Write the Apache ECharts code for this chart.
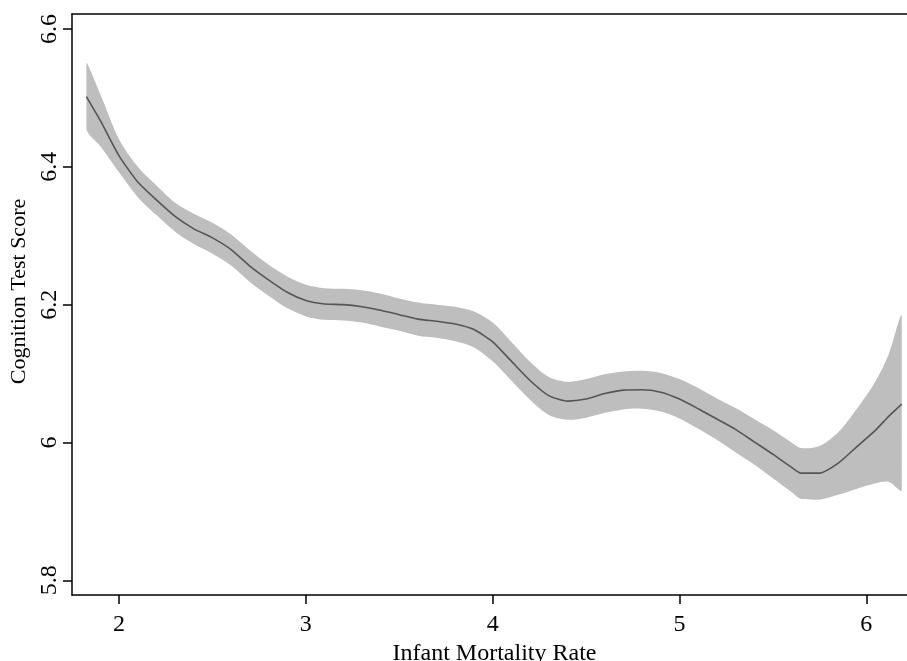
<!DOCTYPE html>
<html>
<head>
<meta charset="utf-8">
<style>
  html, body { margin: 0; padding: 0; background: #fff; }
  #chart { width: 907px; height: 661px; }
</style>
<script src="https://cdn.jsdelivr.net/npm/echarts@6/dist/echarts.min.js"></script>
</head>
<body>
<div id="chart"></div>
<script>
// infant mortality rate (x) and the smoothed fit with its confidence band
const xs = [1.825, 1.9, 2.0, 2.1, 2.2, 2.3, 2.4, 2.5, 2.6, 2.7, 2.8, 2.9, 3.0, 3.1, 3.2, 3.3, 3.4, 3.5, 3.6, 3.7, 3.8, 3.9,
    4.0, 4.1, 4.2, 4.3, 4.4, 4.5, 4.6, 4.7, 4.8, 4.9, 5.0, 5.1, 5.2, 5.3, 5.4, 5.5, 5.6, 5.65, 5.75, 5.85, 5.95, 6.05, 6.12, 6.19];
const fit = [6.502, 6.467, 6.416, 6.378, 6.352, 6.328, 6.31, 6.297, 6.28, 6.256, 6.236, 6.218, 6.206, 6.201, 6.2, 6.197, 6.192, 6.1855, 6.179, 6.176, 6.172, 6.164,
    6.146, 6.118, 6.09, 6.068, 6.06, 6.063, 6.071, 6.076, 6.0765, 6.073, 6.063, 6.049, 6.034, 6.019, 6.001, 5.983, 5.964, 5.9555, 5.9555, 5.97, 5.994, 6.018, 6.038, 6.0557];
const upper = [6.551, 6.505, 6.44, 6.40, 6.373, 6.348, 6.332, 6.319, 6.302, 6.279, 6.258, 6.241, 6.229, 6.224, 6.223, 6.221, 6.216, 6.209, 6.203, 6.2, 6.197, 6.19,
    6.174, 6.146, 6.117, 6.095, 6.088, 6.092, 6.099, 6.103, 6.104, 6.101, 6.092, 6.079, 6.064, 6.05, 6.034, 6.018, 6.0, 5.992, 5.995, 6.015, 6.049, 6.089, 6.128, 6.183];
const lower = [6.455, 6.43, 6.392, 6.356, 6.33, 6.306, 6.288, 6.274, 6.257, 6.233, 6.213, 6.195, 6.183, 6.178, 6.177, 6.174, 6.168, 6.162, 6.155, 6.152, 6.147, 6.138,
    6.118, 6.09, 6.062, 6.04, 6.033, 6.036, 6.043, 6.048, 6.049, 6.045, 6.035, 6.02, 6.004, 5.986, 5.968, 5.948, 5.928, 5.918, 5.917, 5.924, 5.933, 5.941, 5.943, 5.931];

const xTicks = [2, 3, 4, 5, 6];
const yTicks = [5.8, 6, 6.2, 6.4, 6.6];

const chart = echarts.init(document.getElementById('chart'));
const serif = '"Liberation Serif", "Times New Roman", serif';

// confidence band: one polygon, upper edge left to right then lower edge back
function renderBand(params, api) {
    if (params.dataIndex !== 0) return null;
    const pts = [];
    for (let i = 0; i < xs.length; i++) pts.push(api.coord([xs[i], upper[i]]));
    for (let i = xs.length - 1; i >= 0; i--) pts.push(api.coord([xs[i], lower[i]]));
    // keep the smoothed outline inside the points' bounding box
    const bmin = [Infinity, Infinity], bmax = [-Infinity, -Infinity];
    pts.forEach(function(p) {
        bmin[0] = Math.min(bmin[0], p[0]); bmin[1] = Math.min(bmin[1], p[1]);
        bmax[0] = Math.max(bmax[0], p[0]); bmax[1] = Math.max(bmax[1], p[1]);
    });
    return {
        type: 'polygon',
        shape: { points: pts, smooth: 0.3, smoothConstraint: [bmin, bmax] },
        style: { fill: '#bebebe', stroke: null }
    };
}

const option = {
    backgroundColor: '#fff',
    animation: false,
    grid: {
        left: 72,
        top: 14,
        right: 0,
        bottom: 66,
        outerBoundsMode: 'none'
    },
    xAxis: [
        {
            type: 'value',
            min: 1.748,
            max: 6.218,
            name: 'Infant Mortality Rate',
            nameLocation: 'middle',
            nameGap: 47,
            nameTextStyle: { fontFamily: serif, fontSize: 24, color: '#000', padding: [0, 0, 0, 10] },
            z: 10,
            axisLine: { lineStyle: { color: '#000', width: 1.5 } },
            axisTick: { customValues: xTicks, length: 9, lineStyle: { color: '#000', width: 1.5 } },
            axisLabel: { customValues: xTicks, margin: 18, fontFamily: serif, fontSize: 24, color: '#000' },
            splitLine: { show: false }
        },
        {
            type: 'value',
            position: 'top',
            min: 1.748,
            max: 6.218,
            z: 10,
            axisLine: { show: true, lineStyle: { color: '#000', width: 1.5 } },
            axisTick: { show: false },
            axisLabel: { show: false },
            splitLine: { show: false }
        }
    ],
    yAxis: {
        type: 'value',
        min: 5.7787,
        max: 6.6218,
        name: 'Cognition Test Score',
        nameLocation: 'middle',
        nameGap: 38,
        nameTextStyle: { fontFamily: serif, fontSize: 22, color: '#000', padding: [0, 0, 0, 26] },
        z: 10,
        axisLine: { show: true, lineStyle: { color: '#000', width: 1.5 } },
        axisTick: { show: true, customValues: yTicks, length: 9, lineStyle: { color: '#000', width: 1.5 } },
        axisLabel: { customValues: yTicks, rotate: 90, margin: 10, fontFamily: serif, fontSize: 24, color: '#000' },
        splitLine: { show: false }
    },
    series: [
        {
            type: 'custom',
            renderItem: renderBand,
            data: xs.map((x, i) => [x, upper[i]]),
            clip: true,
            z: 1
        },
        {
            type: 'line',
            data: xs.map((x, i) => [x, fit[i]]),
            smooth: 0.2,
            symbol: 'none',
            lineStyle: { color: '#555555', width: 1.6 },
            z: 3
        }
    ]
};
chart.setOption(option);

window.addEventListener('resize', function() {
    chart.resize();
});
</script>
</body>
</html>
